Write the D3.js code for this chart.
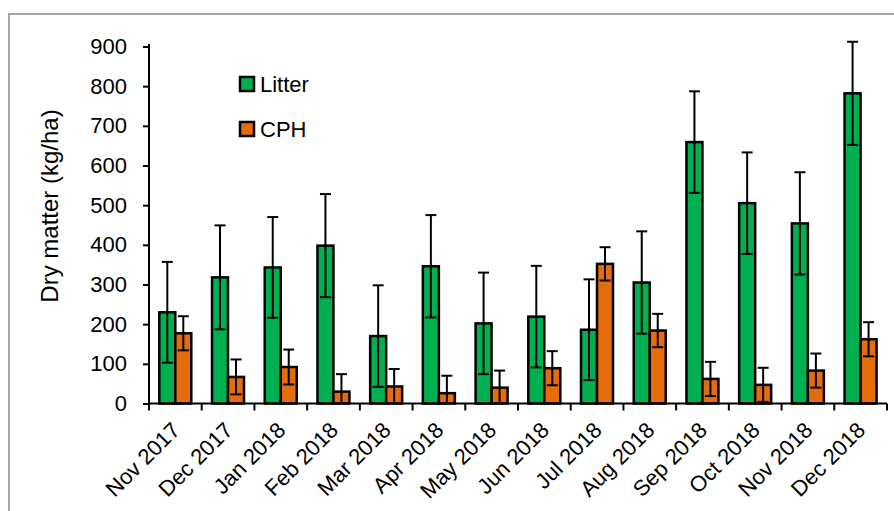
<!DOCTYPE html>
<html>
<head>
<meta charset="utf-8">
<script src="https://cdn.jsdelivr.net/npm/d3@7"></script>
<style>
  body { margin: 0; background: #fff; }
  svg { display: block; font-family: "Liberation Sans", Arial, sans-serif; }
</style>
</head>
<body>
<div id="chart"></div>
<script>
// data
const months = ["Nov 2017", "Dec 2017", "Jan 2018", "Feb 2018", "Mar 2018", "Apr 2018", "May 2018",
                "Jun 2018", "Jul 2018", "Aug 2018", "Sep 2018", "Oct 2018", "Nov 2018", "Dec 2018"];
const series = ["Litter", "CPH"];
const litter = [230, 318, 343, 398, 170, 346, 202, 219, 186, 305, 659, 505, 454, 782];
const litterErr = [127, 131, 127, 130, 128, 129, 128, 128, 127, 129, 128, 128, 129, 130];
const cph = [177, 67, 92, 30, 43, 26, 40, 89, 352, 184, 62, 47, 83, 162];
const cphErr = [43, 44, 44, 44, 44, 44, 43, 43, 42, 42, 43, 43, 43, 43];
const yTicks = [0, 100, 200, 300, 400, 500, 600, 700, 800, 900];
const colors = { "Litter": "#00B050", "CPH": "#E46C0A" };

const width = 894, height = 511;

let svg = d3.select("#chart")
    .append("svg")
    .attr("width", width)
    .attr("height", height);

// chart frame (runs off the right and bottom edge)
svg.append("rect")
    .attr("x", 9).attr("y", 14)
    .attr("width", 900).attr("height", 520)
    .attr("fill", "none")
    .attr("stroke", "#a6a6a6")
    .attr("stroke-width", 2);

let x0 = d3.scaleBand().domain(months).range([149, 887]);
let x1 = d3.scaleBand().domain(series).range([10.3, 42.3]);
let y = d3.scaleLinear().domain([0, 900]).range([403.5, 46.5]);

// build rows for bars
let rows = [];
months.forEach(function (m, i) {
    rows.push({ month: m, key: "Litter", v: litter[i], e: litterErr[i] });
    rows.push({ month: m, key: "CPH", v: cph[i], e: cphErr[i] });
});

let g = svg.append("g");

g.selectAll("rect.bar")
    .data(rows)
    .enter()
    .append("rect")
    .attr("class", "bar")
    .attr("x", d => x0(d.month) + x1(d.key))
    .attr("y", d => y(d.v))
    .attr("width", x1.bandwidth())
    .attr("height", d => y(0) - y(d.v))
    .attr("fill", d => colors[d.key])
    .attr("stroke", "#000")
    .attr("stroke-width", 2.5);

// error bars
let cap = 11;
let eb = g.selectAll("g.err")
    .data(rows)
    .enter()
    .append("g")
    .attr("class", "err")
    .attr("stroke", "#000")
    .attr("stroke-width", 2);

function cx(d) { return x0(d.month) + x1(d.key) + x1.bandwidth() / 2; }
function lo(d) { return Math.max(0, d.v - d.e); }

eb.append("line")
    .attr("x1", cx).attr("x2", cx)
    .attr("y1", d => y(lo(d)))
    .attr("y2", d => y(d.v + d.e));
eb.append("line")
    .attr("x1", d => cx(d) - cap / 2).attr("x2", d => cx(d) + cap / 2)
    .attr("y1", d => y(d.v + d.e)).attr("y2", d => y(d.v + d.e));
eb.filter(d => d.v - d.e > 0)
    .append("line")
    .attr("x1", d => cx(d) - cap / 2).attr("x2", d => cx(d) + cap / 2)
    .attr("y1", d => y(d.v - d.e)).attr("y2", d => y(d.v - d.e));

// y axis
let yAxis = svg.append("g")
    .attr("transform", "translate(149,0)")
    .call(d3.axisLeft(y).tickValues(yTicks).tickSize(6).tickSizeOuter(0).tickPadding(16));
yAxis.select(".domain").attr("stroke-width", 2).attr("d", "M0," + y(0) + "V" + 44);
yAxis.selectAll(".tick line").attr("stroke-width", 2);
yAxis.selectAll("text").attr("font-size", 22).attr("fill", "#000")
    .attr("font-family", "Liberation Sans, Arial, sans-serif");

// x axis: ticks at category boundaries
let xAxis = svg.append("g")
    .attr("transform", "translate(0," + y(0) + ")");
xAxis.append("line")
    .attr("x1", 148).attr("x2", 887)
    .attr("stroke", "#000").attr("stroke-width", 2);
xAxis.selectAll("line.tk")
    .data(months.concat(["end"]))
    .enter()
    .append("line")
    .attr("class", "tk")
    .attr("x1", (d, i) => 149 + i * x0.bandwidth())
    .attr("x2", (d, i) => 149 + i * x0.bandwidth())
    .attr("y1", 0).attr("y2", 7)
    .attr("stroke", "#000").attr("stroke-width", 2);
xAxis.selectAll("text")
    .data(months)
    .enter()
    .append("text")
    .attr("text-anchor", "end")
    .attr("font-size", 22)
    .attr("transform", d => "translate(" + (x0(d) + x0.bandwidth() / 2 + 6) + ",28) rotate(-45)")
    .text(d => d);

// y label
svg.append("text")
    .attr("transform", "translate(58,206) rotate(-90)")
    .attr("text-anchor", "middle")
    .attr("font-size", 24)
    .text("Dry matter (kg/ha)");

// legend
let legend = svg.selectAll("g.leg")
    .data(series)
    .enter()
    .append("g")
    .attr("class", "leg")
    .attr("transform", (d, i) => "translate(240," + (77 + i * 45) + ")");
legend.append("rect")
    .attr("width", 14).attr("height", 14)
    .attr("fill", d => colors[d])
    .attr("stroke", "#000").attr("stroke-width", 2.5);
legend.append("text")
    .attr("x", 20).attr("y", 14.5)
    .attr("font-size", 22)
    .text(d => d);
</script>
</body>
</html>
